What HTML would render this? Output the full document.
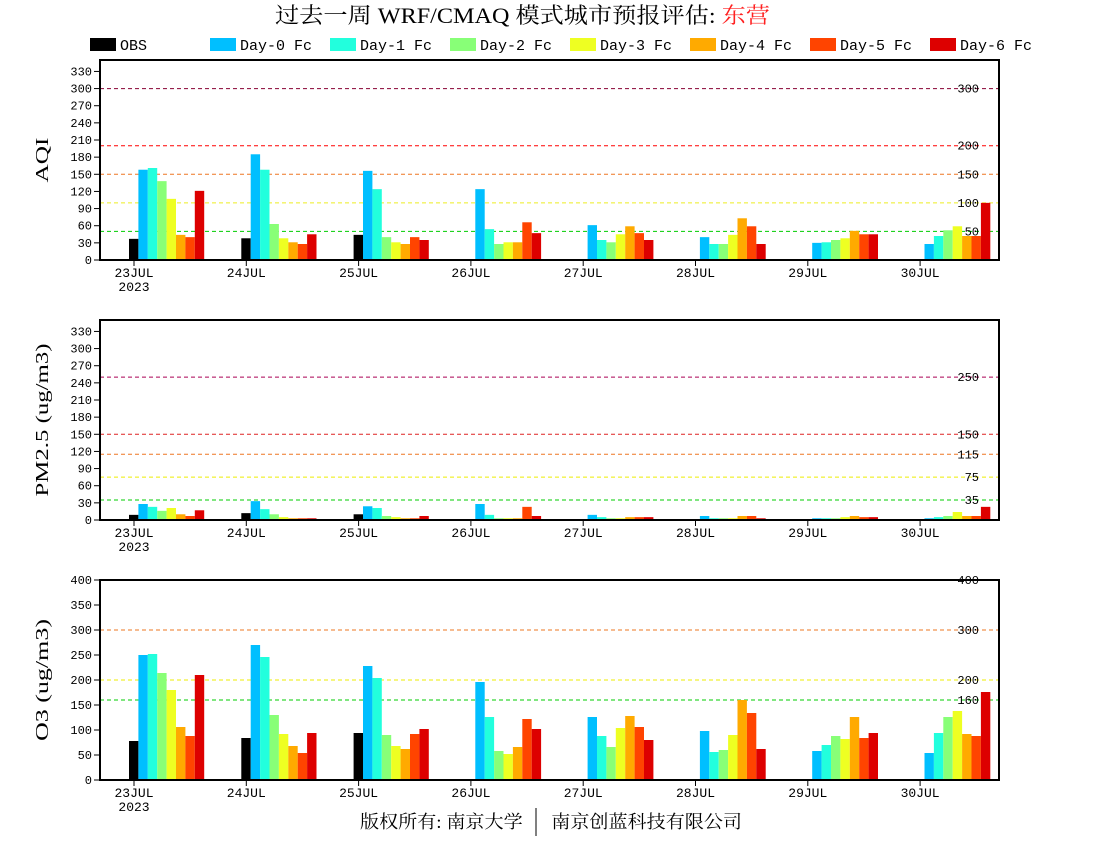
<!DOCTYPE html>
<html><head><meta charset="utf-8"><style>
body{margin:0;background:#fff;}
svg{display:block;font-family:"Liberation Mono","Noto Serif CJK SC",monospace;}
</style></head><body>
<svg id="s" width="1100" height="850" xmlns="http://www.w3.org/2000/svg">
<text x="275" y="23" font-size="22" textLength="495" lengthAdjust="spacingAndGlyphs" font-family="Liberation Serif, Noto Serif CJK SC, serif">过去一周 WRF/CMAQ 模式城市预报评估: <tspan fill="#ff2020">东营</tspan></text>
<text x="360" y="828" font-size="18" textLength="382" lengthAdjust="spacingAndGlyphs" font-family="Liberation Serif, Noto Serif CJK SC, serif">版权所有: 南京大学 &#8195; 南京创蓝科技有限公司</text>
<line x1="536" y1="808" x2="536" y2="836" stroke="#000" stroke-width="1"/>
</svg>
<script>
const s=document.getElementById('s');const NS='http://www.w3.org/2000/svg';
function el(t,a,txt){const e=document.createElementNS(NS,t);for(const k in a)e.setAttribute(k,a[k]);if(txt!==undefined)e.textContent=txt;s.appendChild(e);return e;}
const cols=['#000000','#00bfff','#22ffdd','#88ff77','#eeff22','#ffaa00','#ff4400','#dd0000'];
const names=['OBS','Day-0 Fc','Day-1 Fc','Day-2 Fc','Day-3 Fc','Day-4 Fc','Day-5 Fc','Day-6 Fc'];
for(let i=0;i<8;i++){const x=90+120*i;el('rect',{x:x,y:38,width:26,height:13,fill:cols[i]});el('text',{x:x+30,y:50,'font-size':15,textLength:(i==0?27:72),lengthAdjust:'spacingAndGlyphs'},names[i]);}
const days=['23JUL','24JUL','25JUL','26JUL','27JUL','28JUL','29JUL','30JUL'];
const panels=[
{top:60,max:350,ticks:[0,30,60,90,120,150,180,210,240,270,300,330],label:'AQI',lw:45,
lines:[[300,'#880033'],[200,'#ff0000'],[150,'#ee7722'],[100,'#eeee22'],[50,'#00cc00']],
d:[[37,158,161,138,107,44,40,121],[38,185,158,63,38,31,28,45],[44,156,124,40,31,28,40,35],[null,124,54,28,31,31,66,47],[null,61,35,31,45,59,47,35],[null,40,28,28,44,73,59,28],[null,30,31,35,38,51,45,45],[null,28,42,52,59,42,42,100]]},
{top:320,max:350,ticks:[0,30,60,90,120,150,180,210,240,270,300,330],label:'PM2.5 (ug/m3)',lw:153,
lines:[[250,'#aa0055'],[150,'#dd2222'],[115,'#ee7722'],[75,'#eeee00'],[35,'#00cc00']],
d:[[9,28,23,16,21,10,7,17],[12,33,19,10,5,3,3,3],[10,24,21,7,5,3,3,7],[null,28,9,3,3,3,23,7],[null,9,5,3,3,5,5,5],[null,7,3,3,3,7,7,3],[null,3,3,3,5,7,5,5],[null,3,5,7,14,7,7,23]]},
{top:580,max:400,ticks:[0,50,100,150,200,250,300,350,400],label:'O3 (ug/m3)',lw:122,
lines:[[400,'#ff0000'],[300,'#ee7722'],[200,'#eeee00'],[160,'#00cc00']],
d:[[78,250,252,214,180,106,88,210],[84,270,246,130,92,68,54,94],[94,228,204,90,68,62,92,102],[null,196,126,58,52,66,122,102],[null,126,88,66,104,128,106,80],[null,98,56,60,90,160,134,62],[null,58,70,88,82,126,84,94],[null,54,94,126,138,92,88,176]]}];
const L=100,R=999,H=200;
panels.forEach(p=>{
 const y0=p.top+H,sc=H/p.max;
 p.lines.forEach(([v,c])=>{const y=y0-v*sc;el('line',{x1:L,x2:R,y1:y,y2:y,stroke:c,'stroke-width':1,'stroke-dasharray':'4,3'});el('text',{x:979,y:y+4,'font-size':12,'text-anchor':'end'},String(v));});
 p.d.forEach((arr,d)=>{const C=134+112.3*d;arr.forEach((v,i)=>{if(v==null)return;const h=v*sc;el('rect',{x:C-5+9.4*i,y:y0-h,width:9.4,height:h,fill:cols[i]});});
  el('line',{x1:C,x2:C,y1:y0,y2:y0+6,stroke:'#000'});
  el('text',{x:C,y:y0+17,'font-size':13,'text-anchor':'middle'},days[d]);
  if(d==0)el('text',{x:C,y:y0+31,'font-size':13,'text-anchor':'middle'},'2023');});
 p.ticks.forEach(v=>{const y=y0-v*sc;el('line',{x1:94,x2:L,y1:y,y2:y,stroke:'#000'});el('text',{x:92,y:y+4,'font-size':12,'text-anchor':'end'},String(v));});
 el('rect',{x:L,y:p.top,width:R-L,height:H,fill:'none',stroke:'#000','stroke-width':2});
 const cy=p.top+H/2;el('text',{x:0,y:0,'font-size':18,'text-anchor':'middle',textLength:p.lw,lengthAdjust:'spacingAndGlyphs',transform:`translate(48,${cy}) rotate(-90)`,'font-family':'Liberation Serif, serif'},p.label);
});
</script>
</body></html>
